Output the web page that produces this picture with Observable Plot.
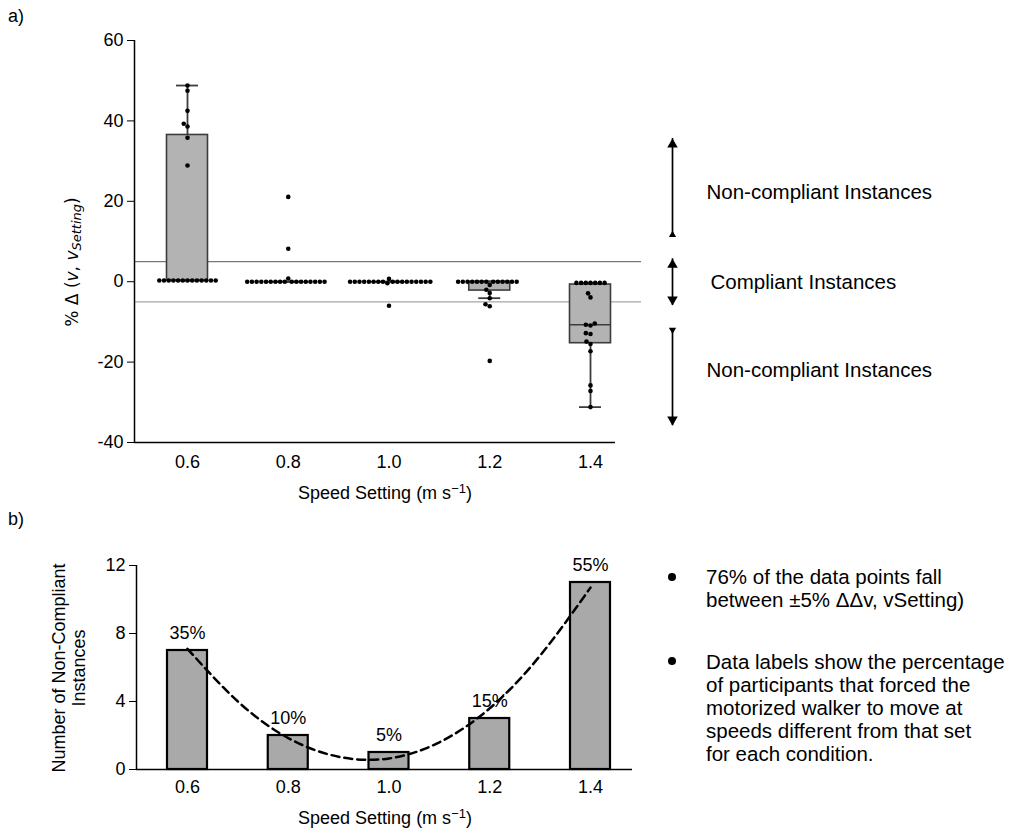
<!DOCTYPE html>
<html>
<head>
<meta charset="utf-8">
<script src="https://cdn.jsdelivr.net/npm/d3@7"></script>
<script src="https://cdn.jsdelivr.net/npm/@observablehq/plot@0.6"></script>
<style>
  html, body { margin: 0; padding: 0; background: #fff; }
  #wrap { position: relative; width: 1011px; height: 831px; overflow: hidden; font-family: "Liberation Sans", Arial, sans-serif; color: #000; }
  #wrap svg { position: absolute; left: 0; }
  .ov { position: absolute; white-space: nowrap; }
  .c { transform: translate(-50%, -50%); }
  .rot { transform: translate(-50%, -50%) rotate(-90deg); text-align: center; }
  .bullet { position: absolute; width: 8px; height: 8px; border-radius: 50%; background: #000; transform: translate(-50%, -50%); }
</style>
</head>
<body>
<div id="wrap"></div>
<script>
// ---------------- data ----------------
const speeds = [0.6, 0.8, 1.0, 1.2, 1.4];
const speedTickLabels = ["0.6", "0.8", "1.0", "1.2", "1.4"];

// % deviation of walker speed from the set speed, 20 participants per condition
const dev06 = [48.8, 47.5, 42.5, 38.6, 39.3, 35.8, 28.9, 0.3, 0.3, 0.3, 0.3, 0.3, 0.3, 0.3, 0.3, 0.3, 0.3, 0.3, 0.3, 0.3];
const dev08 = [21.1, 8.2, 0.8, 0, 0, 0, 0, 0, 0, 0, 0, 0, 0, 0, 0, 0, 0, 0, 0, 0];
const dev10 = [0.7, -0.4, -6.0, 0, 0, 0, 0, 0, 0, 0, 0, 0, 0, 0, 0, 0, 0, 0, 0, 0];
const dev12 = [-19.7, -6.1, -5.6, -4.1, -2.8, -2.0, -0.8, 0, 0, 0, 0, 0, 0, 0, 0, 0, 0, 0, 0, 0];
const dev14 = [-31.2, -27.2, -25.8, -17.3, -15.5, -14.9, -13.0, -12.8, -10.9, -10.7, -10.4, -3.9, -2.9, -0.3, -0.3, -0.3, -0.3, -0.3, -0.3, -0.3];

// box plot statistics
const boxQ1 = [0.3, 0, 0, -2.2, -15.3];
const boxMedian = [0.3, 0, 0, 0, -10.7];
const boxQ3 = [36.5, 0, 0, 0, -0.7];
const whiskerLow = [0.3, 0, 0, -4.1, -31.2];
const whiskerHigh = [48.8, 0, 0, 0, -0.3];

const complianceUpper = 5;
const complianceLower = -5;
const yTicksA = [-40, -20, 0, 20, 40, 60];

// annotation ranges (panel a, in % deviation units)
const arrowRanges = [[35.6, 11.4], [5.7, -5.9], [-11.7, -35.8]];
const arrowLabels = ["Non-compliant Instances", "Compliant Instances", "Non-compliant Instances"];
const arrowLabelY = [22.2, -0.1, -22.1];

// panel b
const nonCompliantCounts = [7, 2, 1, 3, 11];
const pctLabels = ["35%", "10%", "5%", "15%", "55%"];
const trendX = [0.6, 0.7, 0.8, 0.9, 1.0, 1.1, 1.2, 1.3, 1.4];
const trendY = [7.1, 4.0, 1.85, 0.75, 0.65, 1.6, 3.6, 6.7, 10.7];
const yTicksB = [0, 4, 8, 12];

// ---------------- layout ----------------
const FONT = '"Liberation Sans", Arial, sans-serif';
const PXU = 503.75;               // px per speed unit
const pxX = (px) => 0.6 + (px - 187) / PXU;  // pixel column -> speed units (annotation placement)
const W = 1011;
const BOX_STROKE = "#3c3c3c";
const boxHW = 20.5 / PXU, capHW = 11 / PXU, barHW = 20 / PXU;

const devs = [dev06, dev08, dev10, dev12, dev14];
const yPxA = 402 / 100;  // px per % unit in panel a

// simple beeswarm: points are placed in the given order, nearest free slot to the centre
function swarm(vals, D) {
  const placed = [];
  return vals.map(v => {
    const y = -v * yPxA;
    const neigh = placed.filter(p => Math.abs(p.y - y) < D);
    const cands = [0];
    for (const n of neigh) {
      const dx = Math.sqrt(D * D - (n.y - y) ** 2);
      cands.push(n.x + dx, n.x - dx);
    }
    cands.sort((a, b) => Math.abs(a) - Math.abs(b) || a - b);
    const x = cands.find(c => neigh.every(n => (n.x - c) ** 2 + (n.y - y) ** 2 >= D * D - 1e-6));
    placed.push({x, y});
    return x;
  });
}

const points = speeds.flatMap((s, i) => {
  const offs = swarm(devs[i], 4.7);
  return devs[i].map((v, j) => ({x: s + offs[j] / PXU, y: v}));
});

const boxTable = speeds.map((s, i) => ({speed: s, q1: boxQ1[i], med: boxMedian[i], q3: boxQ3[i], lo: whiskerLow[i], hi: whiskerHigh[i]}));

const xA0 = pxX(134), xA1 = pxX(637);
const xAxisEndA = pxX(615), xRefEnd = pxX(641);
const xArrow = pxX(672);
const arrowTable = arrowRanges.map(([a, b]) => ({y1: a, y2: b}));
const upHeads = [{y: arrowRanges[0][0]}, {y: arrowRanges[1][0]}];
const downHeads = [{y: arrowRanges[1][1]}, {y: arrowRanges[2][1]}];
const tailUp = [{y: arrowRanges[0][1]}];
const tailDown = [{y: arrowRanges[2][0]}];
const labelTable = arrowLabels.map((t, i) => ({t, y: arrowLabelY[i], x: pxX(i === 1 ? 710 : 706)}));

const common = {
  width: W,
  style: {fontFamily: FONT, fontSize: "18px", color: "#000", background: "transparent", overflow: "visible"}
};
const fmtSpeed = (d) => speedTickLabels[speeds.findIndex(s => Math.abs(s - d) < 1e-9)];

const plotA = Plot.plot({
  ...common,
  height: 500,
  marginLeft: 134, marginRight: W - 637, marginTop: 40, marginBottom: 58,
  x: {domain: [xA0, xA1], ticks: speeds, tickFormat: fmtSpeed, tickSize: 0, tickPadding: 13, label: null},
  y: {domain: [-40, 60], ticks: yTicksA, tickFormat: d => String(d), tickSize: 7, tickPadding: 4, label: null},
  marks: [
    Plot.ruleY([complianceUpper], {x1: () => xA0, x2: () => xRefEnd, stroke: "#777", strokeWidth: 1.2}),
    Plot.ruleY([complianceLower], {x1: () => xA0, x2: () => xRefEnd, stroke: "#a6a6a6", strokeWidth: 1.2}),
    Plot.ruleX([xA0], {y1: () => -40, y2: () => 60, stroke: "#000", strokeWidth: 1.5}),
    Plot.ruleY([-40], {x1: () => xA0, x2: () => xAxisEndA, stroke: "#000", strokeWidth: 1.5}),
    Plot.ruleX(boxTable, {x: "speed", y1: "lo", y2: "hi", stroke: BOX_STROKE, strokeWidth: 1.8}),
    Plot.ruleY(boxTable, {y: "lo", x1: d => d.speed - capHW, x2: d => d.speed + capHW, stroke: BOX_STROKE, strokeWidth: 1.8}),
    Plot.ruleY(boxTable, {y: "hi", x1: d => d.speed - capHW, x2: d => d.speed + capHW, stroke: BOX_STROKE, strokeWidth: 1.8}),
    Plot.rect(boxTable, {x1: d => d.speed - boxHW, x2: d => d.speed + boxHW, y1: "q1", y2: "q3", fill: "#b3b3b3", stroke: BOX_STROKE, strokeWidth: 1.6}),
    Plot.ruleY(boxTable, {y: "med", x1: d => d.speed - boxHW, x2: d => d.speed + boxHW, stroke: BOX_STROKE, strokeWidth: 1.6}),
    Plot.dot(points, {x: "x", y: "y", r: 2.3, fill: "#000", stroke: "none"}),
    // annotations
    Plot.ruleX(arrowTable, {x: () => xArrow, y1: "y1", y2: "y2", stroke: "#000", strokeWidth: 1.7}),
    Plot.dot(upHeads, {x: () => xArrow, y: "y", symbol: "triangle", r: 3.9, fill: "#000", stroke: "none", dy: 6}),
    Plot.dot(downHeads, {x: () => xArrow, y: "y", symbol: "triangle", r: 3.9, fill: "#000", stroke: "none", rotate: 180, dy: -6}),
    Plot.dot(tailUp, {x: () => xArrow, y: "y", symbol: "triangle", r: 2.7, fill: "#000", stroke: "none", dy: -1}),
    Plot.dot(tailDown, {x: () => xArrow, y: "y", symbol: "triangle", r: 2.7, fill: "#000", stroke: "none", rotate: 180, dy: 1}),
    Plot.text(labelTable, {x: "x", y: "y", text: "t", textAnchor: "start", fontSize: 20.5, fill: "#000"})
  ]
});
plotA.style.top = "0px";

const xB0 = pxX(136);
const barTable = speeds.map((s, i) => ({speed: s, n: nonCompliantCounts[i], label: pctLabels[i]}));
const trendTable = trendX.map((x, i) => ({x, y: trendY[i]}));

const plotB = Plot.plot({
  ...common,
  height: 331,
  marginLeft: 136, marginRight: W - 637, marginTop: 65, marginBottom: 62,
  x: {domain: [xB0, xA1], ticks: speeds, tickFormat: fmtSpeed, tickSize: 0, tickPadding: 11, label: null},
  y: {domain: [0, 12], ticks: yTicksB, tickFormat: d => String(d), tickSize: 7, tickPadding: 4, label: null},
  marks: [
    Plot.ruleX([xB0], {y1: () => 0, y2: () => 12, stroke: "#000", strokeWidth: 1.5}),
    Plot.rect(barTable, {x1: d => d.speed - barHW, x2: d => d.speed + barHW, y1: () => 0, y2: "n", fill: "#a9a9a9", stroke: "#000", strokeWidth: 2.2}),
    Plot.ruleY([0], {x1: () => xB0, x2: () => pxX(632), stroke: "#000", strokeWidth: 1.5}),
    Plot.line(trendTable, {x: "x", y: "y", curve: "natural", stroke: "#000", strokeWidth: 2.5, strokeDasharray: "8,5"}),
    Plot.text(barTable, {x: "speed", y: "n", text: "label", dy: -17, fontSize: 18, fill: "#000"})
  ]
});
plotB.style.top = "500px";

const wrap = document.getElementById("wrap");
wrap.appendChild(plotA);
wrap.appendChild(plotB);

function ov(html, left, top, cls, extra) {
  const d = document.createElement("div");
  d.className = "ov " + (cls || "");
  d.style.left = left + "px";
  d.style.top = top + "px";
  if (extra) Object.assign(d.style, extra);
  d.innerHTML = html;
  wrap.appendChild(d);
  return d;
}

ov("a)", 8, 6, "", {fontSize: "18px"});
ov("b)", 8, 509, "", {fontSize: "18px"});

ov('% Δ (<i>v</i>, <i>v</i><sub style="font-size:13px;vertical-align:-3px"><i>Setting</i></sub>)', 73, 262, "rot",
   {fontFamily: '"DejaVu Sans", sans-serif', fontSize: "17px"});
ov('Speed Setting (m s<sup style="font-size:13px;vertical-align:6px">−1</sup>)', 385, 492, "c", {fontSize: "18px"});

ov('Number of Non-Compliant<br>Instances', 69, 668, "rot", {fontSize: "18px", lineHeight: "20px"});
ov('Speed Setting (m s<sup style="font-size:13px;vertical-align:6px">−1</sup>)', 385, 817, "c", {fontSize: "18px"});

// panel b notes
const noteStyle = {fontSize: "20.5px", lineHeight: "23px"};
wrap.appendChild(Object.assign(document.createElement("div"), {className: "bullet", style: "left:672px;top:577px"}));
wrap.appendChild(Object.assign(document.createElement("div"), {className: "bullet", style: "left:672px;top:661px"}));
ov('76% of the data points fall<br>between ±5% ΔΔv, vSetting)', 706, 565, "", noteStyle);
ov('Data labels show the percentage<br>of participants that forced the<br>motorized walker to move at<br>speeds different from that set<br>for each condition.', 706, 650, "", noteStyle);
</script>
</body>
</html>
